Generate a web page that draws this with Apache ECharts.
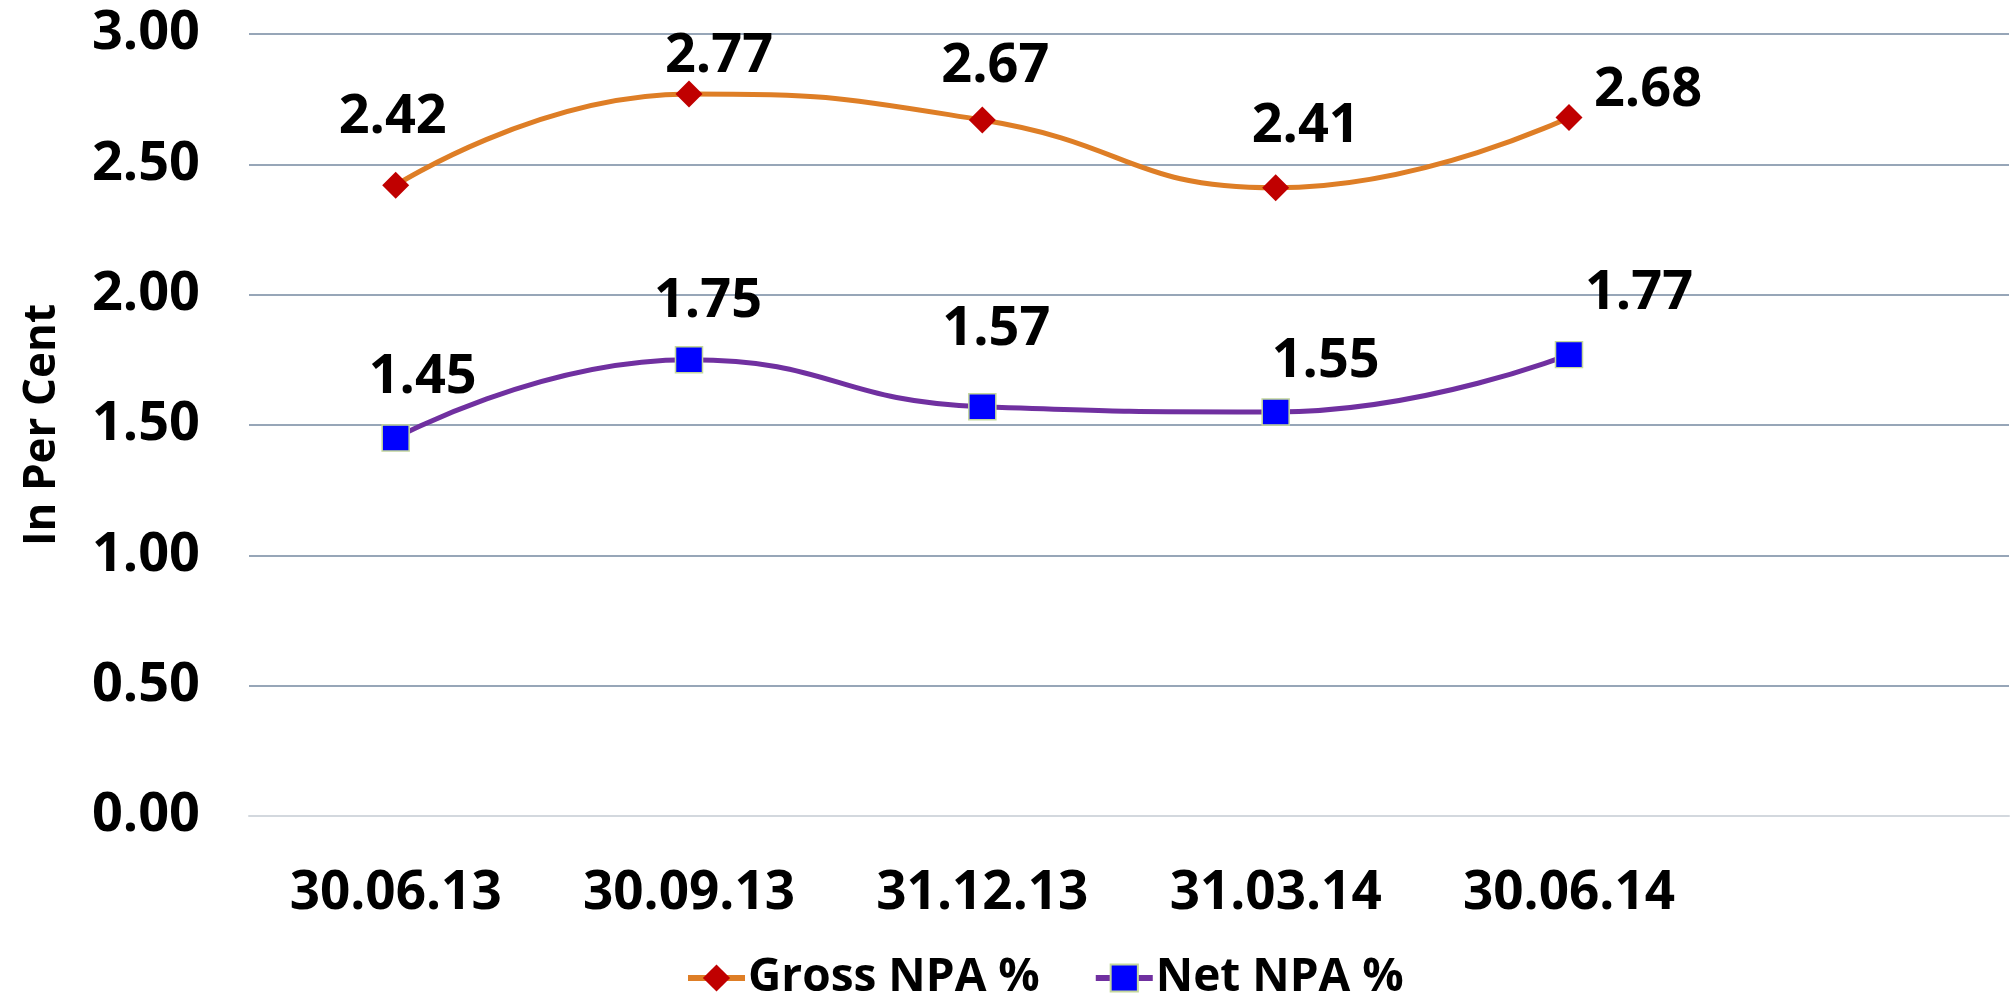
<!DOCTYPE html>
<html><head><meta charset="utf-8">
<script src="https://cdn.jsdelivr.net/npm/echarts@6/dist/echarts.min.js"></script>
<style>html,body{margin:0;padding:0;background:#fff}#c{width:2010px;height:1001px}</style>
</head><body><div id="c"></div>
<script>
const categories = ['30.06.13', '30.09.13', '31.12.13', '31.03.14', '30.06.14', ''];
const grossNPA = [2.42, 2.77, 2.67, 2.41, 2.68];
const netNPA = [1.45, 1.75, 1.57, 1.55, 1.77];
const yMin = 0, yMax = 3, yStep = 0.5;
const seriesNames = ['Gross NPA %', 'Net NPA %'];
const yAxisName = 'In Per Cent';

// label placement tweaks (pixel offsets from each marker), not data
const grossLabelOffset = [[-3, -68], [30, -37], [13, -53], [30, -61], [79, -27]];
const netLabelOffset = [[27, -60], [19, -58], [14, -77], [50, -50], [70, -61]];

const FONT = "'Open Sans', 'DejaVu Sans', sans-serif";

function withLabels(vals, offs) {
  return vals.map((v, i) => ({ value: v, label: { offset: offs[i] } }));
}

const chart = echarts.init(document.getElementById('c'), null, { renderer: 'canvas' });
chart.setOption({
  animation: false,
  backgroundColor: '#ffffff',
  grid: { left: 249, right: 1, top: 34, bottom: 185, containLabel: false, outerBoundsMode: 'none' },
  legend: {
    data: seriesNames,
    left: 680, top: 950,
    itemWidth: 57, itemHeight: 34, itemGap: 53,
    lineStyle: { width: 6 },
    textStyle: { fontFamily: FONT, fontWeight: 'bold', fontSize: 46, color: '#000', padding: [0, 0, 0, -2] }
  },
  xAxis: {
    type: 'category',
    data: categories,
    boundaryGap: true,
    axisLine: { show: true, lineStyle: { color: '#D3D8DE', width: 2 } },
    axisTick: { show: false },
    axisLabel: { fontFamily: FONT, fontWeight: 'bold', fontSize: 53, color: '#000', margin: 51, interval: 0 },
    splitLine: { show: false }
  },
  yAxis: {
    type: 'value',
    min: yMin, max: yMax, interval: yStep,
    name: yAxisName,
    nameLocation: 'middle',
    nameGap: 185,
    nameTextStyle: { fontFamily: FONT, fontWeight: 'bold', fontSize: 44, color: '#000' },
    axisLine: { show: false },
    axisTick: { show: false },
    axisLabel: { fontFamily: FONT, fontWeight: 'bold', fontSize: 54, color: '#000', margin: 49,
      formatter: v => v.toFixed(2) },
    splitLine: { show: true, lineStyle: { color: '#97A6B8', width: 2 } }
  },
  series: [
    {
      name: seriesNames[0],
      type: 'line',
      smooth: 0.5,
      data: withLabels(grossNPA, grossLabelOffset),
      symbol: 'diamond',
      symbolSize: 27,
      lineStyle: { color: '#DE7E26', width: 5 },
      itemStyle: { color: '#C00000', borderWidth: 0 },
      label: { show: true, position: 'inside', fontFamily: FONT, fontWeight: 'bold', fontSize: 54, color: '#000',
        formatter: p => p.value.toFixed(2) },
      z: 3
    },
    {
      name: seriesNames[1],
      type: 'line',
      smooth: 0.5,
      data: withLabels(netNPA, netLabelOffset),
      symbol: 'rect',
      symbolSize: [27, 26],
      lineStyle: { color: '#7030A0', width: 5 },
      itemStyle: { color: '#0000FF', borderColor: '#C4D79B', borderWidth: 1.5 },
      label: { show: true, position: 'inside', fontFamily: FONT, fontWeight: 'bold', fontSize: 54, color: '#000',
        formatter: p => p.value.toFixed(2) },
      z: 3
    }
  ]
});
</script>
</body></html>
